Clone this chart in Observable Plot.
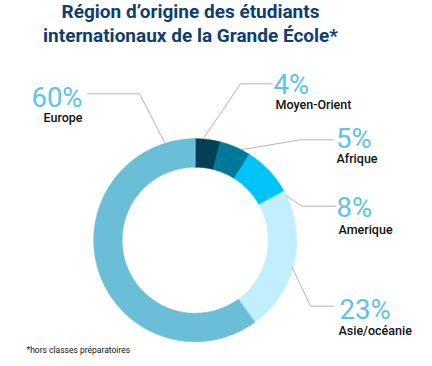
<!DOCTYPE html>
<html><head><meta charset="utf-8">
<script src="https://cdn.jsdelivr.net/npm/d3@7"></script>
<script src="https://cdn.jsdelivr.net/npm/@observablehq/plot@0.6"></script>
<style>
html,body{margin:0;padding:0;background:#fff;}
#chart{width:432px;height:366px;overflow:hidden;}
</style></head>
<body><div id="chart"></div>
<script>
// ---- data ----
const regions = ["Moyen-Orient", "Afrique", "Amerique", "Asie/océanie", "Europe"];
const shares = [4, 5, 8, 23, 60];
const titleLines = ["Région d’origine des étudiants", "internationaux de la Grande École*"];
const note = "*hors classes préparatoires";
const palette = ["#033f55", "#00789a", "#00c4f8", "#c2effd", "#6bbed8"];

// ---- layout (pixels) ----
const W = 432, H = 366;
const cx = 194.7, cy = 239.7, rOuter = 101.5, rInner = 73;
const labelLayout = {
  "Moyen-Orient": {anchor: "start", pct: [273, 93], name: [275, 108.3], leader: [[202.7, 138.3], [240, 83.3], [272, 83.3]]},
  "Afrique":      {anchor: "start", pct: [335.5, 147], name: [336, 162], leader: [[241.7, 149], [300, 139.3], [333, 139.3]]},
  "Amerique":     {anchor: "start", pct: [336, 216], name: [338, 233], leader: [[285, 195], [301.7, 205.7], [335, 205.7]]},
  "Asie/océanie": {anchor: "start", pct: [339, 318], name: [338, 334], leader: [[291.7, 266.7], [310, 305.7], [333.3, 305.7]]},
  "Europe":       {anchor: "end", pct: [82, 106], name: [82, 121.7], leader: [[164, 141.7], [139, 93.3], [87, 93.3]]}
};
const titleBaselines = [17, 41], titleWidths = [255, 294], titleCenter = 190;

// ---- slices via d3.pie (clockwise from 12 o'clock) ----
const pie = d3.pie().sort(null).value(d => d.share)(regions.map((r, i) => ({region: r, share: shares[i]})));
const slicePts = [];
for (const a of pie) {
  const n = Math.max(4, Math.ceil((a.endAngle - a.startAngle) / 0.01));
  const outer = [], inner = [];
  for (let k = 0; k <= n; k++) {
    const t = a.startAngle + (a.endAngle - a.startAngle) * k / n;
    outer.push({region: a.data.region, x: rOuter * Math.sin(t), y: -rOuter * Math.cos(t)});
    inner.push({region: a.data.region, x: rInner * Math.sin(t), y: -rInner * Math.cos(t)});
  }
  slicePts.push(...outer, ...inner.reverse());
}

const rel = ([px, py]) => ({x: px - cx, y: py - cy});
const leaderPts = regions.flatMap(r => labelLayout[r].leader.map(p => ({region: r, ...rel(p)})));
const labels = regions.map((r, i) => ({region: r, pctText: `${shares[i]}%`, anchor: labelLayout[r].anchor,
  p: rel(labelLayout[r].pct), n: rel(labelLayout[r].name)}));
const startLabels = labels.filter(d => d.anchor === "start");
const endLabels = labels.filter(d => d.anchor === "end");

const pctStyle = {fontSize: 27.5, fontWeight: 400, fill: "#5cc3ea", lineAnchor: "bottom", fontFamily: "Roboto"};
const nameStyle = {fontSize: 12.5, fontWeight: 500, fill: "#111", lineAnchor: "bottom", fontFamily: "Roboto"};

const svg = Plot.plot({
  width: W, height: H,
  margin: 0,
  style: {background: "#fff", fontFamily: "Roboto, sans-serif"},
  x: {domain: [-cx, W - cx], range: [0, W], axis: null},
  y: {domain: [-cy, H - cy], range: [0, H], axis: null},
  color: {domain: regions, range: palette},
  marks: [
    Plot.line(slicePts, {x: "x", y: "y", z: "region", fill: "region", stroke: "region", strokeWidth: 0.6, curve: "linear-closed"}),
    Plot.line(leaderPts, {x: "x", y: "y", z: "region", stroke: "#b4b4b4", strokeWidth: 1}),
    Plot.text(startLabels, {x: d => d.p.x, y: d => d.p.y, text: "pctText", textAnchor: "start", ...pctStyle}),
    Plot.text(endLabels, {x: d => d.p.x, y: d => d.p.y, text: "pctText", textAnchor: "end", ...pctStyle}),
    Plot.text(startLabels, {ariaLabel: "names", x: d => d.n.x, y: d => d.n.y, text: "region", textAnchor: "start", ...nameStyle}),
    Plot.text(endLabels, {ariaLabel: "names", x: d => d.n.x, y: d => d.n.y, text: "region", textAnchor: "end", ...nameStyle}),
    Plot.text(titleLines, {ariaLabel: "title", x: () => titleCenter - cx, y: (d, i) => titleBaselines[i] - cy, text: d => d,
      textAnchor: "middle", lineAnchor: "bottom", fontSize: 19, fontWeight: 700, fill: "#0e3d72", fontFamily: "Roboto"}),
    Plot.text([note], {x: () => 26 - cx, y: () => 352 - cy, text: d => d, textAnchor: "start", lineAnchor: "bottom",
      fontSize: 8.5, fill: "#111", fontFamily: "Roboto"})
  ]
});
d3.select(svg).selectAll('g[aria-label="title"] text').each(function(_, i) {
  d3.select(this).attr("textLength", titleWidths[i]).attr("lengthAdjust", "spacingAndGlyphs");
});
d3.select(svg).selectAll('g[aria-label="names"] text').attr("letter-spacing", "0.5");
document.getElementById("chart").appendChild(svg);
</script>
</body></html>
